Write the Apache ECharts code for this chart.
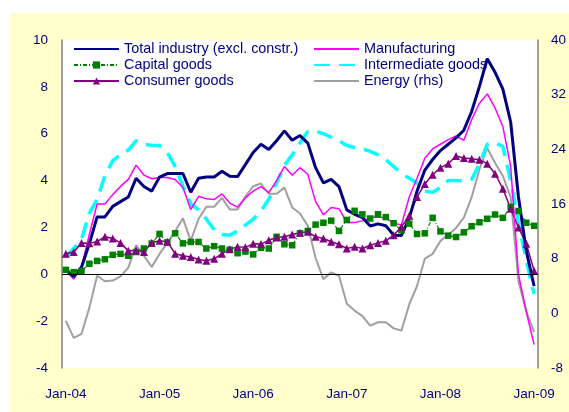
<!DOCTYPE html>
<html>
<head>
<meta charset="utf-8">
<script src="https://cdn.jsdelivr.net/npm/echarts@6/dist/echarts.min.js"></script>
<style>
  body { margin: 0; background: #fff; }
  #bg { position: absolute; left: 10px; top: 13px; width: 559px; height: 399px; background: #ffffcc; }
  #chart { position: absolute; left: 0; top: 0; width: 569px; height: 412px; }
</style>
</head>
<body>
<div id="bg"></div>
<div id="chart"></div>
<script>
// monthly, Jan-04 .. Jan-09
const monthNames = ["Jan", "Feb", "Mar", "Apr", "May", "Jun", "Jul", "Aug", "Sep", "Oct", "Nov", "Dec"];
const years = ["04", "05", "06", "07", "08"];
const categories = [];
years.forEach(y => monthNames.forEach(m => categories.push(m + "-" + y)));
categories.push("Jan-09");

const totalIndustry = [0.2, -0.1, 0.3, 1.3, 2.45, 2.45, 2.9, 3.1, 3.3, 4.1, 3.75, 3.55, 4.15, 4.3, 4.3, 4.3,
  3.5, 4.1, 4.15, 4.15, 4.4, 4.18, 4.17, 4.68, 5.2, 5.55, 5.33, 5.7, 6.12, 5.72, 5.92, 5.6,
  4.55, 3.9, 4.05, 3.74, 2.75, 2.56, 2.42, 2.06, 2.15, 2.07, 1.67, 1.66, 2.4, 3.55, 4.45, 4.9,
  5.28, 5.55, 5.82, 6.15, 6.95, 8.02, 9.2, 8.62, 7.9, 6.5, 3.3, 1.0, -0.5];
const manufacturing = [0.15, -0.2, 0.3, 1.7, 3.0, 3.0, 3.4, 3.75, 4.05, 4.66, 4.23, 4.08, 4.13, 4.13, 4.05, 3.7,
  2.76, 3.33, 3.22, 3.19, 3.43, 3.04, 2.87, 3.26, 3.55, 3.74, 3.48, 4.0, 4.6, 4.23, 4.55, 4.27,
  3.1, 2.54, 2.85, 2.8, 2.21, 2.21, 2.28, 2.42, 2.44, 2.4, 2.18, 2.1, 3.3, 4.1, 4.95, 5.35,
  5.55, 5.75, 5.9, 5.72, 6.6, 7.3, 7.7, 7.1, 6.3, 4.6, 0.0, -1.6, -3.0];
const capitalGoods = [0.19, 0.09, 0.14, 0.45, 0.57, 0.64, 0.83, 0.87, 0.79, 0.95, 1.1, 1.31, 1.72, 1.36, 1.75, 1.32,
  1.38, 1.38, 1.1, 1.2, 1.1, 1.05, 0.9, 0.97, 0.85, 1.13, 1.1, 1.6, 1.28, 1.24, 1.75, 1.85,
  2.12, 2.2, 2.29, 1.85, 2.32, 2.71, 2.56, 2.38, 2.56, 2.44, 2.18, 1.88, 2.16, 1.72, 1.75, 2.41,
  1.83, 1.65, 1.59, 1.79, 2.05, 2.22, 2.37, 2.55, 2.41, 2.88, 2.7, 2.2, 2.07];
const intermediateGoods = [0.74, 1.1, 1.5, 2.6, 3.2, 4.2, 4.85, 5.1, 5.3, 5.7, 5.55, 5.5, 5.5, 5.2, 4.6, 3.75,
  3.0, 2.75, 2.35, 1.9, 1.7, 1.67, 1.85, 2.1, 2.35, 2.7, 3.2, 3.9, 4.65, 5.1, 5.6, 6.1,
  6.1, 6.0, 5.85, 5.7, 5.5, 5.4, 5.35, 5.25, 5.1, 4.9, 4.6, 4.3, 4.1, 3.9, 3.55, 3.5,
  3.7, 4.0, 4.0, 3.97, 4.05, 4.7, 5.55, 5.62, 5.45, 4.0, 2.2, 0.6, -0.85];
const consumerGoods = [0.88, 0.95, 1.34, 1.32, 1.4, 1.6, 1.53, 1.34, 1.0, 1.02, 0.95, 1.35, 1.43, 1.39, 0.88, 0.79,
  0.74, 0.63, 0.58, 0.66, 0.88, 1.07, 1.17, 1.15, 1.3, 1.29, 1.45, 1.57, 1.6, 1.7, 1.77, 1.82,
  1.6, 1.53, 1.39, 1.28, 1.1, 1.17, 1.1, 1.24, 1.34, 1.43, 1.67, 2.03, 2.5, 3.3, 3.85, 4.25,
  4.55, 4.72, 5.05, 4.96, 4.93, 4.89, 4.72, 4.29, 3.65, 2.8, 2.0, 1.3, 0.15];
// right hand scale
const energy = [-1.1, -3.6, -3.0, 0.8, 5.5, 4.7, 4.8, 5.4, 6.7, 10.0, 8.4, 6.8, 8.7, 10.3, 12.0, 13.9,
  10.6, 13.8, 15.6, 15.6, 16.9, 15.2, 15.2, 17.1, 18.6, 19.0, 17.5, 17.5, 18.4, 15.5, 14.6, 12.8,
  8.1, 5.0, 6.0, 5.5, 1.4, 0.4, -0.4, -1.8, -1.3, -1.3, -2.2, -2.5, 1.3, 4.0, 8.0, 8.7,
  10.6, 11.5, 12.5, 14.0, 17.0, 21.1, 24.2, 22.0, 20.1, 17.0, 4.7, 0.3, -2.7];

const navy = "#000080";
const font = "'Liberation Sans', Arial, sans-serif";

let chart = echarts.init(document.getElementById("chart"));

let legendBase = {
  orient: "vertical",
  top: 42,
  padding: 0,
  itemWidth: 45,
  itemHeight: 9,
  itemGap: 2,
  textStyle: { color: navy, fontSize: 14.4, fontFamily: font }
};
// plain lines in the legend: hide the marker
let noMarker = { opacity: 0 };

let axisLabel = { color: navy, fontSize: 13.5, fontFamily: font };

chart.setOption({
  animation: false,
  grid: { left: 62, right: 29, top: 40, bottom: 44, show: true, backgroundColor: "#ffffff", borderWidth: 0 },
  legend: [
    Object.assign({}, legendBase, {
      left: 73,
      data: [
        { name: "Total industry (excl. constr.)", itemStyle: noMarker },
        "Capital goods",
        "Consumer goods"
      ]
    }),
    Object.assign({}, legendBase, {
      left: 313,
      data: [
        { name: "Manufacturing", itemStyle: noMarker },
        { name: "Intermediate goods", itemStyle: noMarker },
        { name: "Energy (rhs)", itemStyle: noMarker }
      ]
    })
  ],
  xAxis: {
    type: "category",
    data: categories,
    boundaryGap: true,
    axisLine: { show: false, onZero: false },
    axisTick: { show: false },
    axisLabel: Object.assign({}, axisLabel, {
      margin: 19,
      interval: function (i) { return i % 12 === 0; }
    }),
    splitLine: { show: false }
  },
  yAxis: [
    {
      type: "value", min: -4, max: 10, interval: 2,
      axisLine: { show: true, lineStyle: { color: "#808080", width: 1.5 } },
      axisTick: { show: false },
      splitLine: { show: false },
      axisLabel: Object.assign({}, axisLabel, { margin: 14 })
    },
    {
      type: "value", min: -8, max: 40, interval: 8, position: "right",
      axisLine: { show: true, lineStyle: { color: "#808080", width: 1.5 } },
      axisTick: { show: false },
      splitLine: { show: false },
      axisLabel: Object.assign({}, axisLabel, { margin: 13 })
    }
  ],
  series: [
    {
      name: "Energy (rhs)", type: "line", yAxisIndex: 1, data: energy,
      symbol: "none", lineStyle: { color: "#a0a0a0", width: 2 }, itemStyle: { color: "#a0a0a0" }
    },
    {
      name: "Intermediate goods", type: "line", data: intermediateGoods,
      symbol: "none", lineStyle: { color: "#00ffff", width: 3.5, type: [16, 9] }, itemStyle: { color: "#00ffff" },
      markLine: {
        silent: true, symbol: ["none", "none"], label: { show: false },
        lineStyle: { color: "#000000", width: 1, type: "solid" },
        data: [{ yAxis: 0 }]
      }
    },
    {
      name: "Capital goods", type: "line", data: capitalGoods,
      symbol: "rect", symbolSize: 6.5, showAllSymbol: true,
      lineStyle: { color: "#008000", width: 1.2, type: [4, 2, 1, 2] }, itemStyle: { color: "#008000" }
    },
    {
      name: "Consumer goods", type: "line", data: consumerGoods,
      symbol: "triangle", symbolSize: 8, showAllSymbol: true,
      lineStyle: { color: "#800080", width: 1.5 }, itemStyle: { color: "#800080" }
    },
    {
      name: "Manufacturing", type: "line", data: manufacturing,
      symbol: "none", lineStyle: { color: "#ff00ff", width: 1.5 }, itemStyle: { color: "#ff00ff" }
    },
    {
      name: "Total industry (excl. constr.)", type: "line", data: totalIndustry,
      symbol: "none", lineStyle: { color: navy, width: 3 }, itemStyle: { color: navy }
    }
  ]
});
</script>
</body>
</html>
